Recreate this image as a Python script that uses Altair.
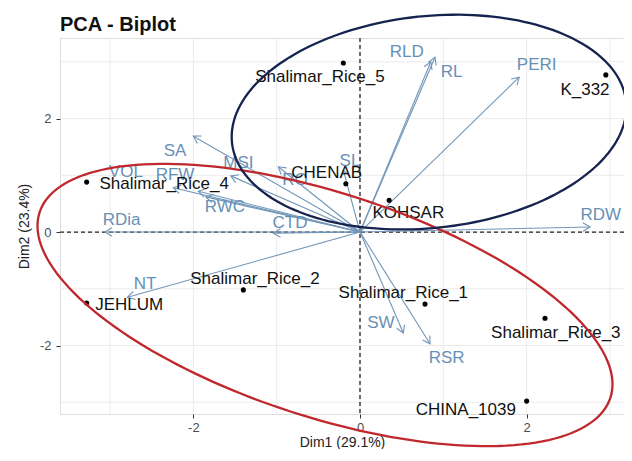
import altair as alt
import pandas as pd
import numpy as np

# ---------------- data ----------------
ind_names = ["Shalimar_Rice_5", "K_332", "CHENAB", "KOHSAR", "Shalimar_Rice_4",
             "JEHLUM", "Shalimar_Rice_2", "Shalimar_Rice_1", "Shalimar_Rice_3", "CHINA_1039"]
ind_dim1 = [-0.20, 2.95, -0.17, 0.35, -3.28, -3.28, -1.40, 0.78, 2.22, 2.00]
ind_dim2 = [2.98, 2.77, 0.85, 0.56, 0.88, -1.25, -1.02, -1.27, -1.52, -2.98]
ind_lab_x = [-0.48, 2.70, -0.40, 0.58, -2.35, -2.77, -1.26, 0.52, 2.35, 1.27]
ind_lab_y = [2.73, 2.50, 1.04, 0.33, 0.85, -1.29, -0.83, -1.07, -1.78, -3.14]

var_names = ["RLD", "RL", "PERI", "RDW", "SL", "RO", "MSI", "SA", "VOL", "RFW",
             "RWC", "CTD", "RDia", "NT", "SW", "RSR"]
var_dim1 = [0.90, 0.85, 1.91, 2.76, -0.20, -0.98, -1.55, -2.00, -2.24, -1.94,
            -1.85, -1.04, -3.06, -2.79, 0.52, 0.84]
var_dim2 = [3.08, 3.00, 2.73, 0.09, 1.09, 1.15, 0.99, 1.69, 0.78, 0.72,
            0.62, -0.02, 0.00, -1.15, -1.78, -1.97]
var_lab_x = [0.56, 1.10, 2.12, 2.89, -0.12, -0.78, -1.46, -2.22, -2.81, -2.22,
             -1.62, -0.84, -2.86, -2.58, 0.25, 1.04]
var_lab_y = [3.17, 2.82, 2.94, 0.30, 1.25, 0.92, 1.22, 1.43, 1.06, 1.00,
             0.44, 0.16, 0.21, -0.92, -1.60, -2.22]

tick_vals = [-2, 0, 2]
grid_vals = [-3, -2, -1, 0, 1, 2, 3]

# hand-drawn group ellipses: centre and the two semi-axis vectors (data units)
ell_cx = [-0.42, 0.828]
ell_cy = [-1.286, 1.938]
ell_ux = [3.425, 2.364]
ell_uy = [-1.633, 0.365]
ell_vx = [0.415, -0.133]
ell_vy = [1.877, 1.857]
ell_col = ["#c0282e", "#15234f"]

# ---------------- layout ----------------
W, H = 564, 376
XMIN, XMAX = -3.60, 3.168
YMIN, YMAX = -3.207, 3.42
SX = W / (XMAX - XMIN)
SY = H / (YMAX - YMIN)
FONT = "Liberation Sans"

xs = alt.Scale(domain=[XMIN, XMAX], nice=False, zero=False, padding=0)
ys = alt.Scale(domain=[YMIN, YMAX], nice=False, zero=False, padding=0)
ax_x = alt.Axis(values=tick_vals, title="Dim1 (29.1%)", grid=False, domain=False,
                tickColor="#333333", tickSize=4, labelFontSize=13, labelColor="#4d4d4d",
                labelExpr="datum.value", labelPadding=3, titleFontSize=14,
                titleColor="#222222", titleFontWeight="normal", titlePadding=1,
                labelFont=FONT, titleFont=FONT)
ax_y = alt.Axis(values=tick_vals, title="Dim2 (23.4%)", grid=False, domain=False,
                tickColor="#333333", tickSize=4, labelFontSize=13, labelColor="#4d4d4d",
                labelExpr="datum.value", labelPadding=5, titleFontSize=14,
                titleColor="#222222", titleFontWeight="normal", titlePadding=8,
                labelFont=FONT, titleFont=FONT)

ind = pd.DataFrame({"name": ind_names, "x": ind_dim1, "y": ind_dim2,
                    "lx": ind_lab_x, "ly": ind_lab_y})
var = pd.DataFrame({"name": var_names, "x": var_dim1, "y": var_dim2,
                    "lx": var_lab_x, "ly": var_lab_y})
var["o"] = 0.0
var["ang"] = (np.degrees(np.arctan2(var["x"] * SX, var["y"] * SY)) + 360) % 360
grid = pd.DataFrame({"g": grid_vals})
zero = pd.DataFrame({"z": [0.0]})

ARROW_COL = "#7196b8"
LABEL_COL = "#6790b6"

vgrid = alt.Chart(grid).mark_rule(color="#ebebeb", strokeWidth=1).encode(
    x=alt.X("g:Q", scale=xs, axis=ax_x))
hgrid = alt.Chart(grid).mark_rule(color="#ebebeb", strokeWidth=1).encode(
    y=alt.Y("g:Q", scale=ys, axis=ax_y))
vzero = alt.Chart(zero).mark_rule(color="#222222", strokeWidth=1.3, strokeDash=[4, 3]).encode(
    x=alt.X("z:Q", scale=xs, axis=ax_x))
hzero = alt.Chart(zero).mark_rule(color="#222222", strokeWidth=1.3, strokeDash=[4, 3]).encode(
    y=alt.Y("z:Q", scale=ys, axis=ax_y))

arrows = alt.Chart(var).mark_rule(color=ARROW_COL, strokeWidth=1.1).encode(
    x=alt.X("o:Q", scale=xs, axis=ax_x), y=alt.Y("o:Q", scale=ys, axis=ax_y),
    x2="x:Q", y2="y:Q")
heads = alt.Chart(var).mark_point(shape="M-0.6,1L0,0L0.6,1", filled=False, size=200,
                                  color=ARROW_COL, strokeWidth=1.1, opacity=1).encode(
    x=alt.X("x:Q", scale=xs, axis=ax_x), y=alt.Y("y:Q", scale=ys, axis=ax_y),
    angle=alt.Angle("ang:Q", scale=None))
vlabels = alt.Chart(var).mark_text(font=FONT, fontSize=17, color=LABEL_COL,
                                   align="center", baseline="middle").encode(
    x=alt.X("lx:Q", scale=xs, axis=ax_x), y=alt.Y("ly:Q", scale=ys, axis=ax_y),
    text="name:N")

points = alt.Chart(ind).mark_circle(color="#000000", size=26, opacity=1).encode(
    x=alt.X("x:Q", scale=xs, axis=ax_x), y=alt.Y("y:Q", scale=ys, axis=ax_y))
ilabels = alt.Chart(ind).mark_text(font=FONT, fontSize=17, color="#111111",
                                   align="center", baseline="middle").encode(
    x=alt.X("lx:Q", scale=xs, axis=ax_x), y=alt.Y("ly:Q", scale=ys, axis=ax_y),
    text="name:N")

ellipses = []
for i in range(len(ell_cx)):
    e = alt.Chart(alt.sequence(0, 362, 2, as_="t")).transform_calculate(
        ex=f"{ell_cx[i]} + {ell_ux[i]}*cos(datum.t*PI/180) + {ell_vx[i]}*sin(datum.t*PI/180)",
        ey=f"{ell_cy[i]} + {ell_uy[i]}*cos(datum.t*PI/180) + {ell_vy[i]}*sin(datum.t*PI/180)",
    ).mark_line(color=ell_col[i], strokeWidth=2.3).encode(
        x=alt.X("ex:Q", scale=xs, axis=ax_x), y=alt.Y("ey:Q", scale=ys, axis=ax_y),
        order="t:Q")
    ellipses.append(e)

chart = alt.layer(vgrid, hgrid, vzero, hzero, arrows, heads, vlabels, points, ilabels,
                  *ellipses).properties(
    width=W, height=H,
    title=alt.TitleParams("PCA - Biplot", anchor="start", frame="group", fontSize=20,
                          fontWeight="bold", font=FONT, color="#111111", offset=-25),
    padding={"left": 52, "top": 30, "right": 0, "bottom": 35},
    autosize=alt.AutoSizeParams(type="none"),
).configure_view(stroke=None).configure(background="white")

chart.save("out.html", embed_options={"renderer": "svg", "actions": False})
